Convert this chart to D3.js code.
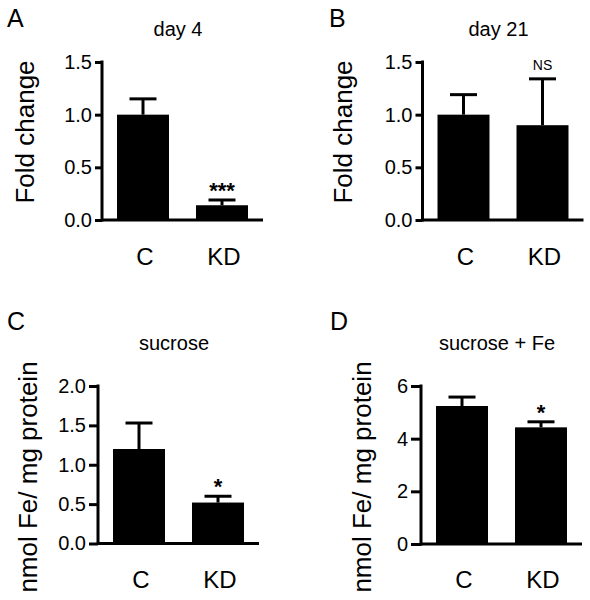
<!DOCTYPE html>
<html>
<head>
<meta charset="utf-8">
<script src="https://cdn.jsdelivr.net/npm/d3@7"></script>
<style>
  html, body { margin: 0; padding: 0; background: #fff; }
  svg { display: block; }
  text { font-family: "Liberation Sans", Arial, Helvetica, sans-serif; fill: #000; }
</style>
</head>
<body>
<svg id="chart" width="590" height="600"></svg>
<script>
// ---- data ----
const categories = ["C", "KD"];
const panelLetters = ["A", "B", "C", "D"];
const titles = ["day 4", "day 21", "sucrose", "sucrose + Fe"];
const yLabels = ["Fold change", "Fold change", "nmol Fe/ mg protein", "nmol Fe/ mg protein"];

const meansA = [1.00, 0.14];
const errA   = [0.15, 0.05];
const meansB = [1.00, 0.90];
const errB   = [0.19, 0.44];
const meansC = [1.20, 0.52];
const errC   = [0.33, 0.08];
const meansD = [5.24, 4.43];
const errD   = [0.34, 0.21];

const ticksA = [0.0, 0.5, 1.0, 1.5];
const ticksB = [0.0, 0.5, 1.0, 1.5];
const ticksC = [0.0, 0.5, 1.0, 1.5, 2.0];
const ticksD = [0, 2, 4, 6];

const sigA = ["", "***"];
const sigB = ["", "NS"];
const sigC = ["", "*"];
const sigD = ["", "*"];

// ---- layout ----
const panels = [
  { letter: panelLetters[0], title: titles[0], ylab: yLabels[0], means: meansA, errs: errA, ticks: ticksA, sig: sigA, fmt: d3.format(".1f"),
    x0: 102, yBottom: 220, yTop: 62, tick: 7, letterX: 7, letterY: 27, titleY: 36, ylabX: 34, ylabY: 132, catY: 265 },
  { letter: panelLetters[1], title: titles[1], ylab: yLabels[1], means: meansB, errs: errB, ticks: ticksB, sig: sigB, fmt: d3.format(".1f"),
    x0: 422.5, yBottom: 220, yTop: 62, tick: 7, letterX: 329, letterY: 27, titleY: 36, ylabX: 352, ylabY: 132, catY: 265 },
  { letter: panelLetters[2], title: titles[2], ylab: yLabels[2], means: meansC, errs: errC, ticks: ticksC, sig: sigC, fmt: d3.format(".1f"),
    x0: 98, yBottom: 543.5, yTop: 386, tick: 9, letterX: 7, letterY: 330, titleY: 350, ylabX: 37, ylabY: 477, catY: 588 },
  { letter: panelLetters[3], title: titles[3], ylab: yLabels[3], means: meansD, errs: errD, ticks: ticksD, sig: sigD, fmt: d3.format("d"),
    x0: 421, yBottom: 544, yTop: 386, tick: 10, letterX: 330, letterY: 330, titleY: 350, ylabX: 371, ylabY: 477, catY: 588 }
];

const svg = d3.select("#chart");
const LW = 3;

panels.forEach(p => {
  const g = svg.append("g");
  const dom = [p.ticks[0], p.ticks[p.ticks.length - 1]];
  const y = d3.scaleLinear().domain(dom).range([p.yBottom, p.yTop]);
  const x = d3.scaleBand().domain(categories)
    .range([p.x0 + 1.5, p.x0 + 159.5])
    .paddingInner(0.342).paddingOuter(0.171);
  const xEnd = p.x0 + 161;

  // bars
  const data = categories.map((c, i) => ({ c, m: p.means[i], e: p.errs[i], s: p.sig[i] }));
  g.selectAll("rect.bar").data(data).enter().append("rect")
    .attr("x", d => x(d.c)).attr("width", x.bandwidth())
    .attr("y", d => y(d.m)).attr("height", d => y(dom[0]) - y(d.m))
    .attr("fill", "#000");

  // error bars (upper only)
  const capW = 27;
  data.forEach(d => {
    const cx = x(d.c) + x.bandwidth() / 2;
    g.append("line").attr("x1", cx).attr("x2", cx)
      .attr("y1", y(d.m)).attr("y2", y(d.m + d.e))
      .attr("stroke", "#000").attr("stroke-width", LW);
    g.append("line").attr("x1", cx - capW / 2).attr("x2", cx + capW / 2)
      .attr("y1", y(d.m + d.e)).attr("y2", y(d.m + d.e))
      .attr("stroke", "#000").attr("stroke-width", LW);
    if (d.s) {
      const top = y(d.m + d.e);
      if (d.s === "NS") {
        g.append("text").attr("x", cx).attr("y", top - 9)
          .attr("text-anchor", "middle").attr("font-size", 14).text(d.s);
      } else {
        g.append("text").attr("x", cx).attr("y", top - 2)
          .attr("text-anchor", "middle").attr("font-size", 22).attr("font-weight", "bold").text(d.s);
      }
    }
  });

  // y axis
  const yAxis = d3.axisLeft(y).tickValues(p.ticks).tickFormat(p.fmt)
    .tickSize(p.tick).tickSizeOuter(0).tickPadding(3);
  const ya = g.append("g").attr("transform", `translate(${p.x0},0)`).call(yAxis);
  ya.select(".domain").remove();
  ya.selectAll(".tick line").attr("stroke", "#000").attr("stroke-width", LW);
  ya.selectAll(".tick text").attr("font-size", 20)
    .attr("font-family", '"Liberation Sans", Arial, Helvetica, sans-serif').attr("fill", "#000");
  g.append("line").attr("x1", p.x0).attr("x2", p.x0)
    .attr("y1", p.yBottom + LW / 2).attr("y2", p.yTop - LW / 2)
    .attr("stroke", "#000").attr("stroke-width", LW);

  // x axis line
  g.append("line").attr("x1", p.x0).attr("x2", xEnd)
    .attr("y1", p.yBottom).attr("y2", p.yBottom)
    .attr("stroke", "#000").attr("stroke-width", LW);

  // category labels
  g.selectAll("text.cat").data(categories).enter().append("text")
    .attr("class", "cat")
    .attr("x", d => x(d) + x.bandwidth() / 2 + 2).attr("y", p.catY)
    .attr("text-anchor", "middle").attr("font-size", 24).text(d => d);

  // title
  g.append("text").attr("x", p.x0 + 76).attr("y", p.titleY)
    .attr("text-anchor", "middle").attr("font-size", 20).text(p.title);

  // panel letter
  g.append("text").attr("x", p.letterX).attr("y", p.letterY)
    .attr("font-size", 25).text(p.letter);

  // y label
  g.append("text").attr("transform", `translate(${p.ylabX},${p.ylabY}) rotate(-90)`)
    .attr("text-anchor", "middle").attr("font-size", 26).text(p.ylab);
});
</script>
</body>
</html>
